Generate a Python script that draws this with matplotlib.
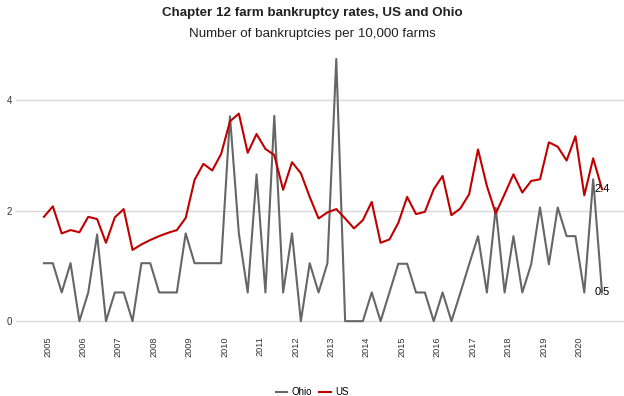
import numpy as np
import pandas as pd
import matplotlib
matplotlib.use("Agg")
import matplotlib.pyplot as plt

plt.rcParams['font.family'] = ['Liberation Sans', 'DejaVu Sans']

# quarterly data, 2005Q1 - 2020Q4
quarters = pd.period_range('2005Q1', '2020Q4', freq='Q')

ohio = [1.05, 1.05, 0.52, 1.05, 0.00, 0.52, 1.57, 0.00, 0.52, 0.52,
        0.00, 1.05, 1.05, 0.52, 0.52, 0.52, 1.59, 1.05, 1.05, 1.05,
        1.05, 3.71, 1.59, 0.52, 2.66, 0.52, 3.72, 0.52, 1.59, 0.00,
        1.05, 0.52, 1.05, 4.75, 0.00, 0.00, 0.00, 0.52, 0.00, 0.52,
        1.04, 1.04, 0.52, 0.52, 0.00, 0.52, 0.00, 0.51, 1.03, 1.54,
        0.52, 2.05, 0.52, 1.54, 0.52, 1.03, 2.06, 1.03, 2.06, 1.54,
        1.54, 0.52, 2.57, 0.52]

us = [1.89, 2.08, 1.59, 1.65, 1.61, 1.89, 1.85, 1.42, 1.88, 2.03,
      1.29, 1.39, 1.47, 1.54, 1.60, 1.65, 1.87, 2.56, 2.85, 2.73,
      3.03, 3.62, 3.76, 3.05, 3.39, 3.12, 3.01, 2.38, 2.88, 2.68,
      2.25, 1.86, 1.97, 2.03, 1.86, 1.68, 1.83, 2.16, 1.42, 1.48,
      1.78, 2.25, 1.94, 1.98, 2.39, 2.63, 1.92, 2.04, 2.30, 3.11,
      2.45, 1.95, 2.30, 2.66, 2.33, 2.54, 2.57, 3.24, 3.16, 2.91,
      3.35, 2.28, 2.95, 2.39]

years = list(range(2005, 2021))

x = quarters.year + (quarters.quarter - 1) / 4

fig = plt.figure(figsize=(6.24, 3.96), dpi=100)
ax = fig.add_axes([0.0256, 0.182, 0.9744, 0.704])

ax.plot(x, ohio, color='#666666', lw=1.5, label='Ohio')
ax.plot(x, us, color='#C00000', lw=1.5, label='US')

ax.text(x[-1], us[-1], f'{us[-1]:.1f}', ha='center', va='center', fontsize=8)
ax.text(x[-1], ohio[-1], f'{ohio[-1]:.1f}', ha='center', va='center', fontsize=8)

ax.set_xlim(2004.21, 2021.37)
ax.set_ylim(-0.05, 5.0)
ax.set_yticks([0, 2, 4])
ax.set_xticks([yr + 0.1 for yr in years])
ax.set_xticklabels([str(yr) for yr in years], rotation=90)
ax.tick_params(axis='both', length=0, labelsize=7, colors='#333333')
ax.tick_params(axis='x', pad=9, labelsize=6.6)
ax.tick_params(axis='y', pad=3)
ax.grid(axis='y', color='#d9d9d9', lw=1)
ax.set_axisbelow(True)
for s in ax.spines.values():
    s.set_visible(False)

fig.text(0.5, 0.968, 'Chapter 12 farm bankruptcy rates, US and Ohio',
         ha='center', va='center', fontsize=9.6, fontweight='bold', color='#222222')
fig.text(0.5, 0.914, 'Number of bankruptcies per 10,000 farms',
         ha='center', va='center', fontsize=9.6, color='#222222')

fig.legend(loc='center', bbox_to_anchor=(0.5, 0.01), ncol=2, frameon=False,
           fontsize=7, handlelength=1.2, handletextpad=0.4, columnspacing=0.8)

fig.savefig('out.png', dpi=100)
